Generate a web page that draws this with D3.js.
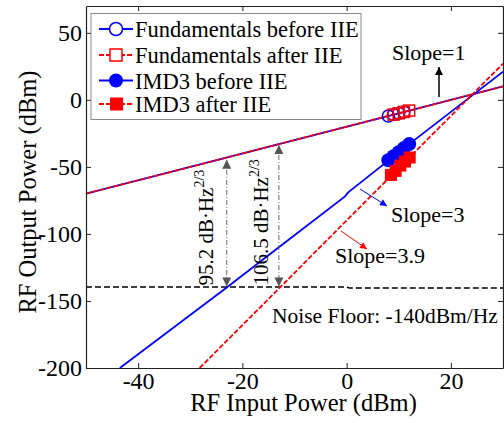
<!DOCTYPE html>
<html>
<head>
<meta charset="utf-8">
<script src="https://cdn.jsdelivr.net/npm/d3@7"></script>
<style>
  body { margin: 0; background: #fff; }
  text { font-family: "Liberation Serif", "Times New Roman", serif; }
</style>
</head>
<body>
<div id="chart"></div>
<script>
// values
const xTicks = [-40, -20, 0, 20];
const yTicks = [-200, -150, -100, -50, 0, 50];

const fundLineX = [-50, -30, -10, 10, 30];
const fundLineY = [-70, -50, -30, -10, 10];

const imdBeforeLineX = [-43.5, -23, -13, -0.3, 0.3, 12, 30];
const imdBeforeLineY = [-200, -140, -110, -72, -69, -33, 21];

const imdAfterLineX = [-28.2, -12.8, -1.3, 10, 30];
const imdAfterLineY = [-200, -140, -95, -51, 27];

const noiseX = [-50, 0, 0.5, 30];
const noiseY = [-139.6, -139.6, -140.3, -140.3];

const fundBeforeX = [8, 9, 10, 11];
const fundBeforeY = [-12, -11, -10, -9];
const fundAfterX = [9, 10, 11, 12];
const fundAfterY = [-11, -10, -9, -8];
const imdBeforeX = [8, 9, 10, 11, 12];
const imdBeforeY = [-45, -42, -39, -36, -33];
const imdAfterX = [8.5, 9.4, 10.3, 11.2, 12.1];
const imdAfterY = [-56, -53, -49, -46, -43];

const legendLabels = [
  "Fundamentals before IIE",
  "Fundamentals after IIE",
  "IMD3 before IIE",
  "IMD3 after IIE",
];

const width = 504,
  height = 423,
  margin = { left: 86, right: 1, top: 6, bottom: 55 };

const blue = "#0000ff",
  red = "#ff0000";

const x = d3
  .scaleLinear()
  .domain([-50, 30])
  .range([margin.left, width - margin.right]);
const y = d3
  .scaleLinear()
  .domain([-200, 70])
  .range([height - margin.bottom, margin.top]);

const svg = d3
  .select("#chart")
  .append("svg")
  .attr("width", width)
  .attr("height", height);

const defs = svg.append("defs");
defs
  .append("clipPath")
  .attr("id", "plotclip")
  .append("rect")
  .attr("x", x(-50))
  .attr("y", y(70))
  .attr("width", x(30) - x(-50))
  .attr("height", y(-200) - y(70));

function arrowMarker(id, color, w, h) {
  defs
    .append("marker")
    .attr("id", id)
    .attr("viewBox", "0 0 10 10")
    .attr("refX", 10)
    .attr("refY", 5)
    .attr("markerUnits", "userSpaceOnUse")
    .attr("markerWidth", w)
    .attr("markerHeight", h)
    .attr("orient", "auto-start-reverse")
    .append("path")
    .attr("d", "M0,0L10,5L0,10z")
    .attr("fill", color);
}
arrowMarker("arrGray", "#555", 11, 9);
arrowMarker("arrBlack", "#000", 10, 8);
arrowMarker("arrBlue", blue, 9, 7);
arrowMarker("arrRed", red, 9, 7);

const zip = (xs, ys) => xs.map((d, i) => [d, ys[i]]);
const line = d3
  .line()
  .x((d) => x(d[0]))
  .y((d) => y(d[1]));

const plot = svg.append("g").attr("clip-path", "url(#plotclip)");

// noise floor
plot
  .append("path")
  .attr("d", line(zip(noiseX, noiseY)))
  .attr("fill", "none")
  .attr("stroke", "#000")
  .attr("stroke-width", 1.5)
  .attr("stroke-dasharray", "6,3");

// curves
plot
  .append("path")
  .attr("d", line(zip(fundLineX, fundLineY)))
  .attr("fill", "none")
  .attr("stroke", blue)
  .attr("stroke-width", 1.8);
plot
  .append("path")
  .attr("d", line(zip(fundLineX, fundLineY)))
  .attr("fill", "none")
  .attr("stroke", red)
  .attr("stroke-width", 1.8)
  .attr("stroke-dasharray", "5,2");
plot
  .append("path")
  .attr("d", line(zip(imdBeforeLineX, imdBeforeLineY)))
  .attr("fill", "none")
  .attr("stroke", blue)
  .attr("stroke-width", 1.8);
plot
  .append("path")
  .attr("d", line(zip(imdAfterLineX, imdAfterLineY)))
  .attr("fill", "none")
  .attr("stroke", red)
  .attr("stroke-width", 1.8)
  .attr("stroke-dasharray", "5,2");

// markers
plot
  .selectAll(".fb")
  .data(zip(fundBeforeX, fundBeforeY))
  .join("circle")
  .attr("cx", (d) => x(d[0]))
  .attr("cy", (d) => y(d[1]))
  .attr("r", 6)
  .attr("fill", "none")
  .attr("stroke", blue)
  .attr("stroke-width", 1.5);
plot
  .selectAll(".fa")
  .data(zip(fundAfterX, fundAfterY))
  .join("rect")
  .attr("x", (d) => x(d[0]) - 5.5)
  .attr("y", (d) => y(d[1]) - 5.5)
  .attr("width", 11)
  .attr("height", 11)
  .attr("fill", "none")
  .attr("stroke", red)
  .attr("stroke-width", 1.5);
plot
  .selectAll(".ib")
  .data(zip(imdBeforeX, imdBeforeY))
  .join("circle")
  .attr("cx", (d) => x(d[0]))
  .attr("cy", (d) => y(d[1]))
  .attr("r", 7)
  .attr("fill", blue);
plot
  .selectAll(".ia")
  .data(zip(imdAfterX, imdAfterY))
  .join("rect")
  .attr("x", (d) => x(d[0]) - 6)
  .attr("y", (d) => y(d[1]) - 6)
  .attr("width", 12)
  .attr("height", 12)
  .attr("fill", red);

// dynamic range annotations
function rangeArrow(xv, yTop, label, baseX) {
  svg
    .append("line")
    .attr("x1", x(xv))
    .attr("x2", x(xv))
    .attr("y1", y(yTop) + 1)
    .attr("y2", y(-140) - 1)
    .attr("stroke", "#666")
    .attr("stroke-width", 1)
    .attr("stroke-dasharray", "5,2,1,2")
    .attr("marker-start", "url(#arrGray)")
    .attr("marker-end", "url(#arrGray)");
  const t = svg
    .append("text")
    .attr("transform", `translate(${baseX},${y(-140) - 2})rotate(-90)`)
    .attr("font-size", 21)
    .attr("fill", "#000");
  t.append("tspan").text(label + " dB·Hz");
  t.append("tspan").attr("dy", -9).attr("font-size", 14).text("2/3");
}
rangeArrow(-23, -44, "95.2", 213);
rangeArrow(-13, -33, "106.5", 268);

// slope labels
svg
  .append("text")
  .attr("x", 392)
  .attr("y", 60)
  .attr("font-size", 22)
  .text("Slope=1");
svg
  .append("line")
  .attr("x1", 439)
  .attr("x2", 439)
  .attr("y1", 97)
  .attr("y2", 67)
  .attr("stroke", "#000")
  .attr("stroke-width", 1.5)
  .attr("marker-end", "url(#arrBlack)");
svg
  .append("text")
  .attr("x", 391)
  .attr("y", 222)
  .attr("font-size", 22)
  .text("Slope=3");
svg
  .append("line")
  .attr("x1", 360)
  .attr("y1", 189)
  .attr("x2", 387)
  .attr("y2", 206)
  .attr("stroke", blue)
  .attr("stroke-width", 1)
  .attr("marker-end", "url(#arrBlue)");
svg
  .append("text")
  .attr("x", 335)
  .attr("y", 263)
  .attr("font-size", 22)
  .text("Slope=3.9");
svg
  .append("line")
  .attr("x1", 341)
  .attr("y1", 231)
  .attr("x2", 367)
  .attr("y2", 249)
  .attr("stroke", red)
  .attr("stroke-width", 1)
  .attr("marker-end", "url(#arrRed)");
svg
  .append("text")
  .attr("x", 272)
  .attr("y", 323)
  .attr("font-size", 21.5)
  .text("Noise Floor: -140dBm/Hz");

// axes: box with inward ticks on all sides
const axisColor = "#222";
const tickLen = 5;
const fmt = (d) => String(d).replace("\u2212", "-");
const axes = [
  { ax: d3.axisBottom(x), pos: `translate(0,${y(-200)})`, lbl: true },
  { ax: d3.axisTop(x), pos: `translate(0,${y(70)})`, lbl: false },
  { ax: d3.axisLeft(y), pos: `translate(${x(-50)},0)`, lbl: true },
  { ax: d3.axisRight(y), pos: `translate(${x(30)},0)`, lbl: false },
];
axes.forEach((a, i) => {
  const isX = i < 2;
  a.ax
    .tickValues(isX ? xTicks : yTicks)
    .tickSizeInner(-tickLen)
    .tickSizeOuter(0)
    .tickPadding(4)
    .tickFormat(a.lbl ? fmt : "");
  const g = svg.append("g").attr("transform", a.pos).call(a.ax);
  g.selectAll("line").attr("stroke", axisColor);
  g.select(".domain").attr("stroke", axisColor).attr("stroke-width", 1.2);
  g.selectAll("text")
    .attr("font-size", 24)
    .attr("fill", "#000")
    .style("font-family", '"Liberation Serif", serif');
});

// axis titles
svg
  .append("text")
  .attr("x", (x(-50) + x(30)) / 2 + 9)
  .attr("y", 411)
  .attr("text-anchor", "middle")
  .attr("font-size", 24.5)
  .text("RF Input Power (dBm)");
svg
  .append("text")
  .attr("transform", `translate(36,192)rotate(-90)`)
  .attr("text-anchor", "middle")
  .attr("font-size", 24.5)
  .text("RF Output Power (dBm)");

// legend
const legend = svg.append("g");
legend
  .append("rect")
  .attr("x", 91)
  .attr("y", 13.5)
  .attr("width", 270)
  .attr("height", 106)
  .attr("fill", "#fff")
  .attr("stroke", "#888")
  .attr("stroke-width", 1);
const legendY = [29, 55, 80.5, 104];
const legendColor = [blue, red, blue, red];
const legendDash = [null, "5,2", null, "5,2"];
legendLabels.forEach((lab, i) => {
  const row = legend.append("g").attr("transform", `translate(0,${legendY[i]})`);
  row
    .append("line")
    .attr("x1", 99)
    .attr("x2", 133)
    .attr("stroke", legendColor[i])
    .attr("stroke-width", 1.8)
    .attr("stroke-dasharray", legendDash[i]);
  if (i === 0)
    row.append("circle").attr("cx", 116).attr("r", 6.5)
      .attr("fill", "#fff").attr("stroke", blue).attr("stroke-width", 1.5);
  if (i === 1)
    row.append("rect").attr("x", 110).attr("y", -6).attr("width", 12).attr("height", 12)
      .attr("fill", "#fff").attr("stroke", red).attr("stroke-width", 1.5);
  if (i === 2) row.append("circle").attr("cx", 116).attr("r", 7).attr("fill", blue);
  if (i === 3)
    row.append("rect").attr("x", 110).attr("y", -6.5).attr("width", 13).attr("height", 13)
      .attr("fill", red);
  row
    .append("text")
    .attr("x", 135)
    .attr("y", 8)
    .attr("font-size", 22.5)
    .text(lab);
});
</script>
</body>
</html>
